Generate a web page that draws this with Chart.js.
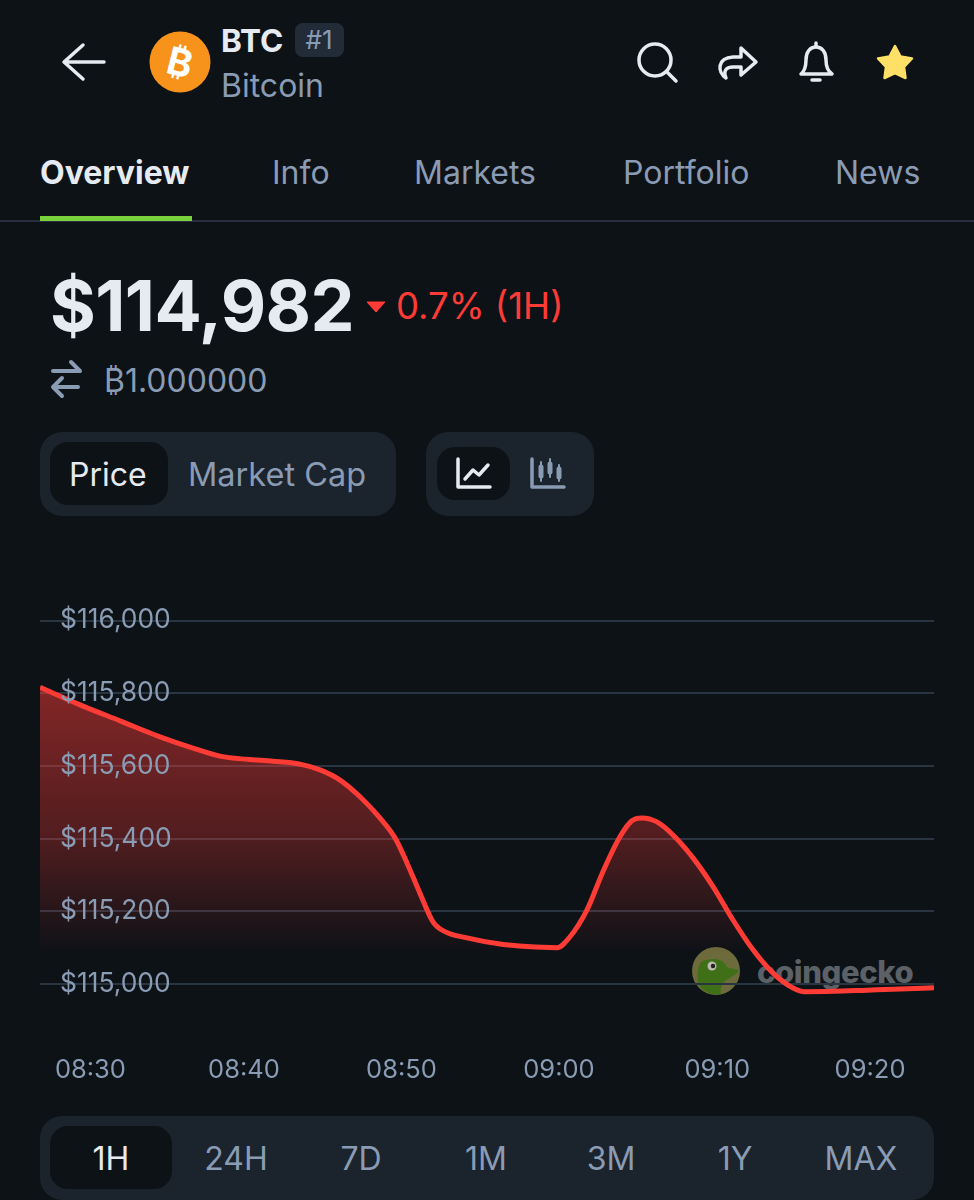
<!DOCTYPE html>
<html>
<head>
<meta charset="utf-8">
<title>BTC</title>
<script src="https://cdn.jsdelivr.net/npm/chart.js@4"></script>
<style>
    html, body { margin: 0; padding: 0; background: #0d1217; }
    body { position: relative; width: 974px; height: 1200px; overflow: hidden; font-family: Inter, sans-serif; color: #8a9bb4; }
    .t { position: absolute; white-space: nowrap; transform: translateY(-50%); line-height: 1; }
    .c { transform: translate(-50%, -50%); }
    .box { position: absolute; box-sizing: border-box; }
    .light { color: #e6eaf1; }
    svg { position: absolute; overflow: visible; }
    canvas { position: absolute; left: 0; top: 560px; }
</style>
</head>
<body>

<!-- header -->
<svg style="left:0;top:0" width="974" height="130" fill="none" stroke="#e6eaf1" stroke-width="3.5" stroke-linecap="round" stroke-linejoin="round">
    <path d="M104 62H65M83 45L64 62L83 79" />
    <circle cx="180" cy="62" r="30.5" fill="#f7931a" stroke="none" />
    <circle cx="655" cy="60" r="16" />
    <path d="M667 72L676 81" />
    <path d="M726 78C717 72 717 58 733 57L741 57V48L756 62L741 75V67L733 67C726 67 723 71 726 78Z" />
    <path d="M801 74C806 70 806 64 806 60C806 52 810 47 816 47C822 47 826 52 826 60C826 64 826 70 832 74Z" />
    <path d="M816 43V46M812 80H820" />
    <path d="M895 46L900.5 56.5L912 58.5L904 67L905.5 78L895 73L884.5 78L886 67L878 58.5L889.5 56.5Z" fill="#ffe066" stroke="#ffe066" stroke-width="2.5" />
</svg>
<div class="t" style="left:180px;top:62px;transform:translate(-50%,-50%) rotate(14deg);font-size:38px;font-weight:700;color:#fff">₿</div>
<div class="t light" style="left:221px;top:41px;font-size:31.5px;font-weight:700">BTC</div>
<div class="box" style="left:295px;top:23px;width:49px;height:34px;background:#222c39;border-radius:8px"></div>
<div class="t c" style="left:319px;top:40px;font-size:26px">#1</div>
<div class="t" style="left:221px;top:86px;font-size:32px">Bitcoin</div>

<!-- tabs -->
<div class="t light" style="left:40px;top:173px;font-size:32px;font-weight:700">Overview</div>
<div class="t" style="left:272px;top:173px;font-size:32px">Info</div>
<div class="t" style="left:414px;top:173px;font-size:32px">Markets</div>
<div class="t" style="left:623px;top:173px;font-size:32px">Portfolio</div>
<div class="t" style="left:835px;top:173px;font-size:32px">News</div>
<div class="box" style="left:0;top:220px;width:974px;height:2px;background:#262f3b"></div>
<div class="box" style="left:40px;top:216px;width:152px;height:5px;background:#79d13b"></div>

<!-- price -->
<div class="t light" style="left:50px;top:306px;font-size:70px;font-weight:700;letter-spacing:-0.6px">$114,982</div>
<svg style="left:0;top:0" width="974" height="420" fill="none">
    <path d="M367 302H385L376 312Z" fill="#ff3b36" stroke="#ff3b36" stroke-width="1" stroke-linejoin="round" />
    <path d="M53 371H80M71 362L80 371M78 387H53M62 378L53 387L62 396" stroke="#8a9bb4" stroke-width="4" stroke-linecap="round" stroke-linejoin="round" />
</svg>
<div class="t" style="left:396px;top:306px;font-size:36.5px;color:#ff3b36">0.7% (1H)</div>
<div class="t" style="left:104px;top:381px;font-size:32px">₿1.000000</div>

<!-- price / market cap -->
<div class="box" style="left:40px;top:432px;width:356px;height:84px;background:#1b232d;border-radius:22px"></div>
<div class="box" style="left:50px;top:442px;width:118px;height:63px;background:#0d1217;border-radius:18px"></div>
<div class="t light" style="left:69px;top:475px;font-size:32px">Price</div>
<div class="t" style="left:188px;top:475px;font-size:32.5px">Market Cap</div>
<div class="box" style="left:426px;top:432px;width:168px;height:84px;background:#1b232d;border-radius:22px"></div>
<div class="box" style="left:437px;top:447px;width:73px;height:53px;background:#0d1217;border-radius:18px"></div>
<svg style="left:0;top:0" width="974" height="520" fill="none" stroke-width="3.5" stroke-linecap="round" stroke-linejoin="round">
    <path d="M458 459V487H490" stroke="#e6eaf1" />
    <path d="M465 479L473 470L479 475L488 465" stroke="#e6eaf1" />
    <path d="M532 459V487H564" stroke="#8a9bb4" />
    <path d="M541 462V481M550 459V477M559 465V481" stroke="#8a9bb4" stroke-width="2" />
    <path d="M541 467V476M550 464V472M559 469V477" stroke="#8a9bb4" stroke-width="5" />
</svg>

<!-- watermark -->
<svg style="left:0;top:0" width="974" height="1100">
    <circle cx="716" cy="971" r="24" fill="#6d6a3c" />
    <path d="M698 984C697 970 698 960 707 960C715 958 723 959 727 967C734 970 739 969 739 971C734 977 726 978 722 985C721 988 720 992 721 994C713 996 703 992 698 984Z" fill="#3f7018" />
    <circle cx="712" cy="966" r="4.5" fill="#b9b9b0" />
    <circle cx="713" cy="966" r="2.2" fill="#20241c" />
</svg>
<div class="t" style="left:757px;top:971px;font-size:31px;font-weight:800;color:#5b6166;letter-spacing:-0.4px">coingecko</div>

<canvas id="price-chart" width="974" height="540"></canvas>

<!-- time range -->
<div class="box" style="left:40px;top:1116px;width:894px;height:84px;background:#1b232d;border-radius:22px"></div>
<div class="box" style="left:50px;top:1126px;width:122px;height:63px;background:#0d1217;border-radius:18px"></div>
<div class="t c light" style="left:111px;top:1159px;font-size:32px">1H</div>
<div class="t c" style="left:236px;top:1159px;font-size:32px">24H</div>
<div class="t c" style="left:361px;top:1159px;font-size:32px">7D</div>
<div class="t c" style="left:486px;top:1159px;font-size:32px">1M</div>
<div class="t c" style="left:611px;top:1159px;font-size:32px">3M</div>
<div class="t c" style="left:735px;top:1159px;font-size:32px">1Y</div>
<div class="t c" style="left:861px;top:1159px;font-size:32px">MAX</div>

<script>
// minutes after 08:30
const minutes = [-2.95, -0.41, 2.13, 4.67, 6.76, 8.48, 10.19, 11.84, 13.56, 14.83, 16.10, 17.37, 18.63, 19.59, 20.35, 21.17, 22, 22.76, 24.16, 26.25, 27.97, 29.87, 30.70, 31.78, 32.79, 33.87, 34.63, 35.27, 36.22, 37.24, 38.51, 39.78, 41.05, 42.32, 43.59, 44.86, 45.62, 47.40, 49.56, 51.65, 53.81];
const prices = [115816, 115768, 115724, 115680, 115649, 115627, 115618, 115613, 115605, 115589, 115561, 115515, 115457, 115402, 115333, 115250, 115171, 115144, 115127, 115110, 115103, 115100, 115130, 115204, 115309, 115405, 115449, 115457, 115446, 115410, 115347, 115268, 115176, 115094, 115030, 114989, 114979, 114980, 114983, 114986, 114990];

const yTicks = [115000, 115200, 115400, 115600, 115800, 116000];
const xTicks = [0.25, 10, 20, 30, 40.05, 49.75];
const xLabels = ['08:30', '08:40', '08:50', '09:00', '09:10', '09:20'];

const yMin = 114900, yMax = 116000;
const xMin = -2.95, xMax = 53.81;
const fadeTop = 115816, fadeBottom = 115080;

function fillGradient(context) {
    const { chart } = context;
    if (!chart.chartArea) return 'transparent';
    const y = chart.scales.y;
    const g = chart.ctx.createLinearGradient(0, y.getPixelForValue(fadeTop), 0, y.getPixelForValue(fadeBottom));
    g.addColorStop(0, 'rgba(255,59,54,0.49)');
    g.addColorStop(0.55, 'rgba(255,59,54,0.29)');
    g.addColorStop(1, 'rgba(255,59,54,0)');
    return g;
}

const ctx = document.getElementById('price-chart').getContext('2d');
new Chart(ctx, {
    type: 'line',
    data: {
        datasets: [{
            data: minutes.map((m, i) => ({ x: m, y: prices[i] })),
            borderColor: '#ff3b36',
            borderWidth: 5,
            backgroundColor: fillGradient,
            fill: 'start',
            pointRadius: 0,
            tension: 0.4,
            cubicInterpolationMode: 'monotone',
        }]
    },
    options: {
        responsive: false,
        animation: false,
        layout: { padding: { left: 40, right: 40, top: 60.5, bottom: 15.65 } },
        plugins: { legend: { display: false }, tooltip: { enabled: false } },
        scales: {
            x: {
                type: 'linear',
                min: xMin,
                max: xMax,
                afterBuildTicks: axis => { axis.ticks = xTicks.map(v => ({ value: v })); },
                afterFit: axis => { axis.height = 64; },
                grid: { display: false, drawTicks: false },
                border: { display: false },
                ticks: {
                    autoSkip: false,
                    maxRotation: 0,
                    padding: 35,
                    color: '#8a9bb4',
                    font: { family: 'Inter', size: 25.5 },
                    callback: v => xLabels[xTicks.indexOf(v)],
                },
            },
            y: {
                min: yMin,
                max: yMax,
                afterBuildTicks: axis => { axis.ticks = yTicks.map(v => ({ value: v })); },
                afterFit: axis => { axis.width = 0; },
                grid: { color: '#2a3542', lineWidth: 2, drawTicks: false },
                border: { display: false },
                ticks: {
                    mirror: true,
                    padding: 20,
                    z: 1,
                    color: '#8a9bb4',
                    font: { family: 'Inter', size: 26.4 },
                    callback: v => '$' + v.toLocaleString('en-US'),
                },
            },
        },
    },
});
</script>
</body>
</html>
